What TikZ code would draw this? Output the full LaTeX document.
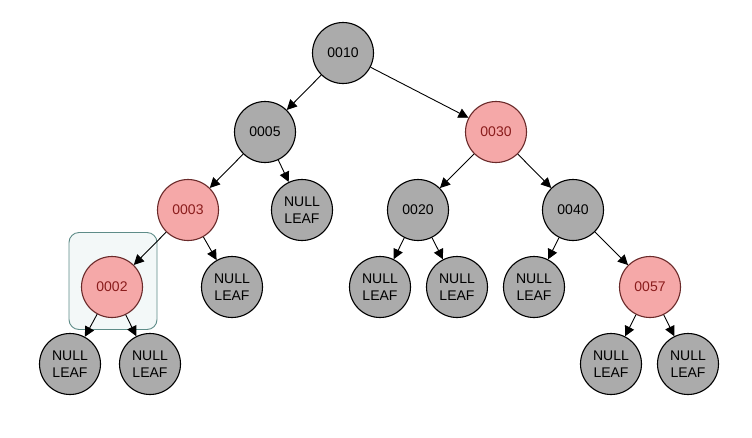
\documentclass[tikz,border=0pt]{standalone}
\usepackage{fontspec}
\setmainfont{Liberation Sans}
\usetikzlibrary{arrows.meta}
\definecolor{nodegray}{HTML}{ABABAB}
\definecolor{nodered}{HTML}{F5A8A8}
\definecolor{redtext}{HTML}{8A1C1C}
\definecolor{redborder}{HTML}{6A2A2A}
\definecolor{boxborder}{HTML}{5E8C88}
\definecolor{boxfill}{HTML}{F3F8F8}
\begin{document}
\begin{tikzpicture}[x=1pt,y=-1pt,
  blk/.style={circle,draw=black,line width=1.1pt,fill=nodegray,minimum size=61pt,inner sep=0pt,font=\fontsize{14}{17}\selectfont,align=center},
  rd/.style={circle,draw=redborder,line width=1.1pt,fill=nodered,text=redtext,minimum size=61pt,inner sep=0pt,font=\fontsize{14}{17}\selectfont},
  nl/.style={blk},
  edge/.style={draw=black,line width=0.9pt,-{Triangle[length=10pt,width=10pt]}}]
\useasboundingbox (0,0) rectangle (752,437);
\fill[white] (0,0) rectangle (752,437);
\node[draw=boxborder,fill=boxfill,rounded corners=10pt,line width=0.9pt,minimum width=88pt,minimum height=97pt,inner sep=0pt] (box) at (113,281) {};
\node[blk] (n10) at (343,53) {0010};
\node[blk] (n05) at (265,132) {0005};
\node[rd] (n30) at (496,132) {0030};
\node[rd] (n03) at (188,210) {0003};
\node[nl] (l05) at (302,210) {NULL\\LEAF};
\node[blk] (n20) at (418,210) {0020};
\node[blk] (n40) at (573,210) {0040};
\node[rd] (n02) at (112,287) {0002};
\node[nl] (l03) at (232,287) {NULL\\LEAF};
\node[nl] (l20a) at (380,287) {NULL\\LEAF};
\node[nl] (l20b) at (457,287) {NULL\\LEAF};
\node[nl] (l40) at (534,287) {NULL\\LEAF};
\node[rd] (n57) at (650,287) {0057};
\node[nl] (l02a) at (70,364) {NULL\\LEAF};
\node[nl] (l02b) at (150,364) {NULL\\LEAF};
\node[nl] (l57a) at (611,364) {NULL\\LEAF};
\node[nl] (l57b) at (688,364) {NULL\\LEAF};
\draw[edge] (n10) -- (n05);
\draw[edge] (n10) -- (n30);
\draw[edge] (n05) -- (n03);
\draw[edge] (n05) -- (l05);
\draw[edge] (n30) -- (n20);
\draw[edge] (n30) -- (n40);
\draw[edge] (n03) -- (n02);
\draw[edge] (n03) -- (l03);
\draw[edge] (n20) -- (l20a);
\draw[edge] (n20) -- (l20b);
\draw[edge] (n40) -- (l40);
\draw[edge] (n40) -- (n57);
\draw[edge] (n02) -- (l02a);
\draw[edge] (n02) -- (l02b);
\draw[edge] (n57) -- (l57a);
\draw[edge] (n57) -- (l57b);
\end{tikzpicture}
\end{document}
